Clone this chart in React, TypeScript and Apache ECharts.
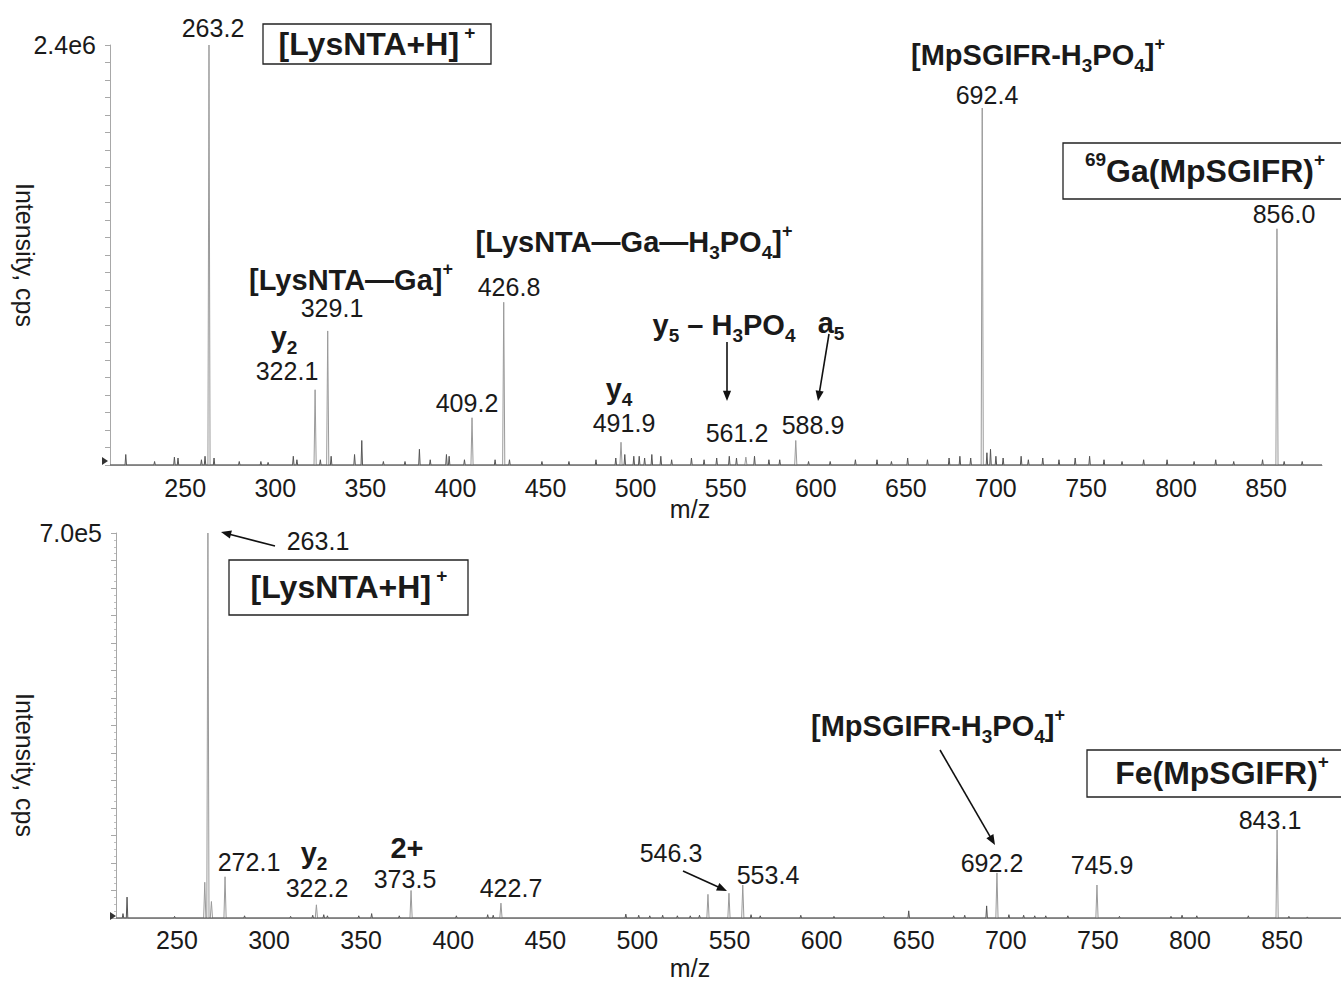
import React, { useEffect, useRef } from "react";
import * as echarts from "echarts";

// ---------- data (m/z position as read on the axis, intensity in cps) ----------
const topMainPeaks: [number, number][] = [
  [263.2, 2.4e6], [322.1, 0.43e6], [329.1, 0.766e6], [409.2, 0.27e6], [426.8, 0.93e6],
  [491.9, 0.13e6], [561.2, 0.045e6], [588.9, 0.14e6], [692.4, 2.04e6], [856.0, 1.35e6],
];
const topNoisePeaks: [number, number][] = [
  [217, 0.06e6], [233, 0.02e6], [244, 0.045e6], [246, 0.04e6], [259, 0.03e6], [261, 0.05e6],
  [266, 0.04e6], [280, 0.02e6], [292, 0.02e6], [296, 0.015e6], [310, 0.05e6], [312, 0.03e6],
  [325, 0.03e6], [331, 0.05e6], [344, 0.06e6], [348, 0.14e6], [360, 0.02e6], [372, 0.02e6],
  [380, 0.09e6], [386, 0.03e6], [395, 0.06e6], [396.5, 0.05e6], [405, 0.03e6], [422, 0.03e6],
  [430, 0.03e6], [448, 0.02e6], [463, 0.02e6], [478, 0.03e6], [489, 0.04e6], [494, 0.06e6],
  [499, 0.05e6], [502, 0.05e6], [505, 0.04e6], [509, 0.06e6], [514, 0.05e6], [520, 0.03e6],
  [531, 0.04e6], [538, 0.03e6], [545, 0.04e6], [552, 0.05e6], [556, 0.04e6], [566, 0.05e6],
  [574, 0.03e6], [580, 0.03e6], [596, 0.02e6], [608, 0.02e6], [622, 0.03e6], [634, 0.03e6],
  [642, 0.02e6], [651, 0.04e6], [662, 0.03e6], [674, 0.04e6], [680, 0.05e6], [686, 0.04e6],
  [695, 0.07e6], [697, 0.09e6], [700, 0.05e6], [704, 0.04e6], [714, 0.05e6], [718, 0.03e6],
  [726, 0.04e6], [735, 0.03e6], [744, 0.04e6], [752, 0.05e6], [760, 0.03e6], [770, 0.02e6],
  [782, 0.03e6], [795, 0.03e6], [810, 0.02e6], [822, 0.03e6], [832, 0.02e6], [848, 0.03e6],
  [860, 0.02e6], [870, 0.02e6],
];
// bottom spectrum: peak positions as they sit against the printed m/z axis
const bottomMainPeaks: [number, number][] = [
  [266.8, 7.0e5], [276.1, 0.75e5], [325.7, 0.24e5], [377.1, 0.5e5], [425.9, 0.27e5],
  [538.3, 0.43e5], [549.7, 0.45e5], [557.2, 0.6e5], [695.2, 0.82e5], [749.5, 0.6e5], [847.3, 1.6e5],
];
const bottomShoulders: [number, number][] = [[265.1, 0.65e5], [268.7, 0.3e5]];
const bottomNoisePeaks: [number, number][] = [
  [220.7, 0.08e5], [222.9, 0.38e5], [248.7, 0.03e5], [286.7, 0.04e5], [311.7, 0.03e5], [323.7, 0.05e5],
  [329.7, 0.06e5], [331.7, 0.04e5], [348.7, 0.04e5], [355.7, 0.08e5], [370.7, 0.04e5], [401.7, 0.04e5],
  [418.7, 0.06e5], [421.7, 0.05e5], [493.7, 0.07e5], [500.7, 0.05e5], [506.7, 0.04e5], [513.7, 0.05e5],
  [521.7, 0.04e5], [528.7, 0.04e5], [533.7, 0.05e5], [561.7, 0.06e5], [566.7, 0.04e5], [588.7, 0.05e5],
  [606.7, 0.03e5], [633.7, 0.03e5], [647.3, 0.13e5], [671.7, 0.04e5], [677.7, 0.05e5], [689.6, 0.22e5],
  [701.7, 0.06e5], [709.7, 0.05e5], [715.7, 0.04e5], [721.7, 0.04e5], [733.7, 0.04e5], [761.7, 0.03e5],
  [789.7, 0.03e5], [795.7, 0.05e5], [803.7, 0.04e5], [831.7, 0.04e5], [853.7, 0.03e5], [863.7, 0.02e5],
];

// axis extents / ticks
const topXRange = [208.25, 881];
const bottomXRange = [216.9, 882.0];
const topYMax = 2.4e6;
const topYLabel = "2.4e6";
const bottomYMax = 7.0e5;
const bottomYLabel = "7.0e5";
const xTickStep = 50;

const FONT = "'Liberation Sans', Arial, Helvetica, sans-serif";
const INK = "#1a1a1a";

function buildSpectrum(peaks: [number, number][], range: number[], halfWidth: number) {
  const sorted = [...peaks].sort((a, b) => a[0] - b[0]);
  const pts: [number, number][] = [[range[0], 0]];
  for (const [mz, h] of sorted) {
    pts.push([mz - halfWidth, 0], [mz, h], [mz + halfWidth, 0]);
  }
  pts.push([range[1], 0]);
  return pts;
}

const tok = (size: number, lh: number, va: string, bold = true) => ({
  fontFamily: FONT,
  fontWeight: bold ? "bold" : "normal",
  fontSize: size,
  lineHeight: lh,
  verticalAlign: va,
  fill: INK,
  color: INK,
});
const rich = {
  b: tok(29, 40, "middle"),
  bb: tok(32, 42, "middle"),
  sub: tok(19, 20, "bottom"),
  sup: tok(18, 24, "top"),
  supb: tok(19, 25, "top"),
};

function txt(x: number, y: number, text: string, opts: any = {}) {
  return {
    type: "text",
    x,
    y,
    rotation: opts.rotation || 0,
    z: 100,
    style: {
      text,
      fill: INK,
      fontFamily: FONT,
      fontSize: opts.fontSize || 25,
      fontWeight: opts.bold ? "bold" : "normal",
      align: "center",
      verticalAlign: "middle",
      textAlign: "center",
      textVerticalAlign: "middle",
      rich,
    },
  };
}

function arrow(x1: number, y1: number, x2: number, y2: number, head = 11) {
  const a = Math.atan2(y2 - y1, x2 - x1);
  const s = 0.38;
  const p1 = [x2 - head * Math.cos(a - s), y2 - head * Math.sin(a - s)];
  const p2 = [x2 - head * Math.cos(a + s), y2 - head * Math.sin(a + s)];
  return [
    {
      type: "line",
      z: 100,
      shape: { x1, y1, x2: x2 - head * 0.7 * Math.cos(a), y2: y2 - head * 0.7 * Math.sin(a) },
      style: { stroke: "#111", lineWidth: 1.6 },
    },
    { type: "polygon", z: 100, shape: { points: [[x2, y2], p1, p2] }, style: { fill: "#111" } },
  ];
}

function box(x: number, y: number, w: number, h: number) {
  return { type: "rect", z: 99, shape: { x, y, width: w, height: h }, style: { fill: "#fff", stroke: "#222", lineWidth: 1.3 } };
}

function marker(x: number, y: number) {
  return { type: "polygon", z: 100, shape: { points: [[x, y - 4], [x + 6, y], [x, y + 4]] }, style: { fill: "#333" } };
}

export default function App() {
  const ref = useRef<HTMLDivElement>(null);
  useEffect(() => {
    document.body.style.margin = "0";
    if (!ref.current) return;
    const chart = echarts.init(ref.current, undefined, { renderer: "svg" });

    const xAxisBase = (range: number[], idx: number, margin: number) => ({
      type: "value",
      gridIndex: idx,
      min: range[0],
      max: range[1],
      splitNumber: 14,
      axisLine: { show: true, lineStyle: { color: "#8c8c8c", width: 1 } },
      axisTick: { show: false },
      splitLine: { show: false },
      axisLabel: {
        color: INK,
        fontFamily: FONT,
        fontSize: 25,
        margin,
        showMinLabel: false,
        showMaxLabel: false,
        formatter: (v: number) => (Math.abs(v % xTickStep) < 1e-6 ? String(Math.round(v)) : ""),
      },
    });
    const yAxisBase = (max: number, label: string, interval: number, idx: number, minorSplit: number) => ({
      type: "value",
      gridIndex: idx,
      min: 0,
      max,
      interval,
      axisLine: { show: true, lineStyle: { color: "#a8a8a8", width: 1 } },
      axisTick: { show: true, length: 5, lineStyle: { color: "#a8a8a8" } },
      minorTick: { show: minorSplit > 1, splitNumber: minorSplit, length: 2, lineStyle: { color: "#c0c0c0" } },
      splitLine: { show: false },
      axisLabel: {
        color: INK,
        fontFamily: FONT,
        fontSize: 25,
        margin: 14,
        formatter: (v: number) => (Math.abs(v - max) < 1 ? label : ""),
      },
    });

    const lineSeries = (data: any, xi: number, color: string, z: number) => ({
      type: "line",
      xAxisIndex: xi,
      yAxisIndex: xi,
      data,
      symbol: "none",
      silent: true,
      z,
      lineStyle: { color, width: 1 },
    });

    const graphics: any[] = [
      // top panel
      txt(213, 28, "263.2"),
      box(263, 24, 228, 40),
      txt(377, 44, "{bb|[LysNTA+H]}{supb| +}"),
      txt(1038, 55, "{b|[MpSGIFR-H}{sub|3}{b|PO}{sub|4}{b|]}{sup|+}"),
      txt(987, 95, "692.4"),
      box(1063, 143, 282, 56),
      txt(1205, 171, "{supb|69}{bb|Ga(MpSGIFR)}{supb|+}"),
      txt(1284, 214, "856.0"),
      txt(634, 242, "{b|[LysNTA—Ga—H}{sub|3}{b|PO}{sub|4}{b|]}{sup|+}"),
      txt(509, 287, "426.8"),
      txt(351, 280, "{b|[LysNTA—Ga]}{sup|+}"),
      txt(332, 308, "329.1"),
      txt(284, 337, "{b|y}{sub|2}"),
      txt(287, 371, "322.1"),
      txt(467, 403, "409.2"),
      txt(619, 389, "{b|y}{sub|4}"),
      txt(624, 423, "491.9"),
      txt(724, 325, "{b|y}{sub|5}{b| – H}{sub|3}{b|PO}{sub|4}"),
      txt(831, 323, "{b|a}{sub|5}"),
      ...arrow(727, 342, 727, 401),
      ...arrow(829, 334, 818, 401),
      txt(737, 433, "561.2"),
      txt(813, 425, "588.9"),
      txt(690, 509, "m/z"),
      txt(25, 255, "Intensity, cps", { rotation: -Math.PI / 2 }),
      marker(102, 461),
      // bottom panel
      ...arrow(275, 546, 221, 532),
      txt(318, 541, "263.1"),
      box(229, 560, 239, 55),
      txt(349, 587, "{bb|[LysNTA+H]}{supb| +}"),
      txt(249, 862, "272.1"),
      txt(314, 853, "{b|y}{sub|2}"),
      txt(317, 888, "322.2"),
      txt(407, 848, "{b|2+}"),
      txt(405, 879, "373.5"),
      txt(511, 888, "422.7"),
      txt(671, 853, "546.3"),
      ...arrow(683, 871, 727, 891),
      txt(768, 875, "553.4"),
      txt(938, 726, "{b|[MpSGIFR-H}{sub|3}{b|PO}{sub|4}{b|]}{sup|+}"),
      ...arrow(940, 750, 995, 845),
      txt(992, 863, "692.2"),
      txt(1102, 865, "745.9"),
      box(1087, 750, 260, 47),
      txt(1222, 773, "{bb|Fe(MpSGIFR)}{supb|+}"),
      txt(1270, 820, "843.1"),
      txt(690, 968, "m/z"),
      txt(25, 765, "Intensity, cps", { rotation: -Math.PI / 2 }),
      marker(110, 916),
    ];

    chart.setOption({
      animation: false,
      backgroundColor: "#ffffff",
      grid: [
        { left: 110, top: 45, width: 1212, height: 420 },
        { left: 116, top: 533, width: 1225, height: 385 },
      ],
      xAxis: [xAxisBase(topXRange, 0, 10), xAxisBase(bottomXRange, 1, 9)],
      yAxis: [yAxisBase(topYMax, topYLabel, 1e5, 0, 1), yAxisBase(bottomYMax, bottomYLabel, 5e4, 1, 4)],
      series: [
        lineSeries(buildSpectrum(topMainPeaks, topXRange, 0.6), 0, "#9a9a9a", 2),
        lineSeries(buildSpectrum(topNoisePeaks, topXRange, 0.4), 0, "#555555", 3),
        lineSeries(buildSpectrum([...bottomMainPeaks, ...bottomShoulders], bottomXRange, 0.6), 1, "#9a9a9a", 2),
        lineSeries(buildSpectrum(bottomNoisePeaks, bottomXRange, 0.4), 1, "#555555", 3),
      ],
      graphic: graphics,
    });
    return () => chart.dispose();
  }, []);
  return <div ref={ref} style={{ width: 1341, height: 981 }} />;
}
